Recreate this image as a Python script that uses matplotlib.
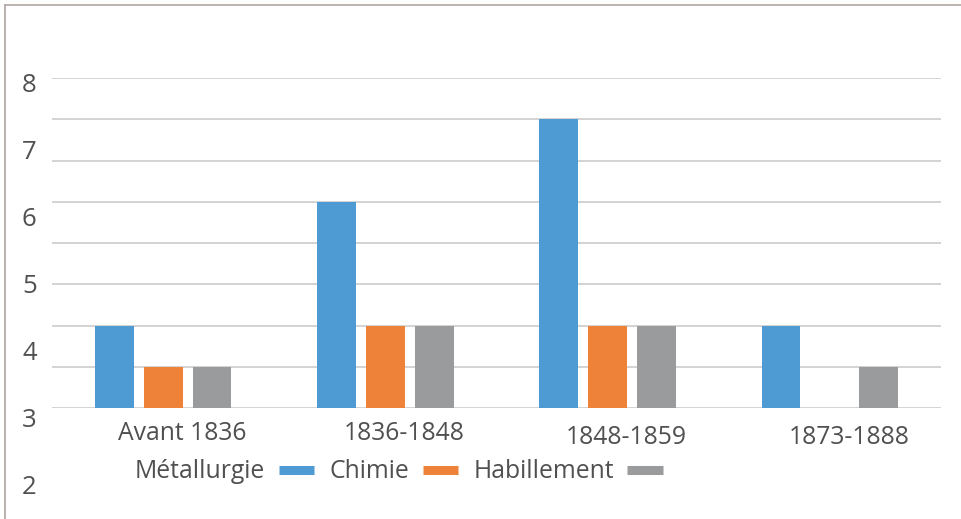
import matplotlib
matplotlib.use('Agg')
import matplotlib.pyplot as plt
from matplotlib.lines import Line2D
from matplotlib.transforms import blended_transform_factory
import numpy as np

plt.rcParams['font.family'] = ['Open Sans', 'DejaVu Sans']

# données
periodes = ['Avant 1836', '1836-1848', '1848-1859', '1873-1888']
metallurgie = [2, 5, 7, 2]
chimie = [1, 2, 2, 0]
habillement = [1, 2, 2, 1]
series = ['Métallurgie', 'Chimie', 'Habillement']
etiquettes_y = [8, 7, 6, 5, 4, 3, 2]

couleurs = ['#4e9ad2', '#ef8239', '#999b9c']
gris_texte = '#505050'

W, H = 961, 519
fig = plt.figure(figsize=(W / 100, H / 100), dpi=100)

def px_box(x0, y0, x1, y1):
    return [x0 / W, 1 - y1 / H, (x1 - x0) / W, (y1 - y0) / H]

ax = fig.add_axes(px_box(52, 78, 941, 408))
x = np.arange(len(periodes))
larg = 0.175
pas = 0.22
for k, vals in enumerate([metallurgie, chimie, habillement]):
    ax.bar(x + (k - 1) * pas, vals, width=larg, color=couleurs[k], zorder=3)

ax.set_xlim(-0.5, len(periodes) - 0.5)
ax.set_ylim(0, 8)
ax.set_yticks(range(0, 9))
ax.grid(axis='y', color='#d0d0d0', linewidth=1.3, zorder=0)
ax.tick_params(length=0, labelleft=False, labelbottom=False)
for s in ax.spines.values():
    s.set_visible(False)

# étiquettes de catégories (décalées comme sur l'original)
trans = blended_transform_factory(ax.transData, fig.transFigure)
y_cat = [433, 433, 437, 437]
for i, p in enumerate(periodes):
    ax.text(i + 0.085, 1 - y_cat[i] / H, p, transform=trans, ha='center', va='center',
            fontsize=17.8, color=gris_texte)

# axe des y décalé (étiquettes seules)
ax_lab = fig.add_axes(px_box(52, 82, 941, 485))
ax_lab.set_ylim(2, 8)
ax_lab.set_yticks(etiquettes_y)
ax_lab.set_xticks([])
ax_lab.patch.set_alpha(0)
for s in ax_lab.spines.values():
    s.set_visible(False)
ax_lab.tick_params(axis='y', length=0, pad=11, labelsize=18.5, labelcolor=gris_texte)

# légende avec le texte avant le symbole
poignees = [Line2D([0], [0], color=c, lw=6.5, solid_capstyle='butt') for c in couleurs]
fig.legend(poignees, series, loc='center', bbox_to_anchor=(399 / W, 1 - 472 / H),
           ncol=3, frameon=False, markerfirst=False, handlelength=1.45,
           handletextpad=0.55, columnspacing=0.6, fontsize=17.8, labelcolor=gris_texte)

# cadre (haut et gauche seulement)
bord = '#b5aca8'
fig.add_artist(Line2D([5 / W, 1], [1 - 5 / H, 1 - 5 / H], color=bord, lw=1.3))
fig.add_artist(Line2D([5 / W, 5 / W], [0, 1 - 5 / H], color=bord, lw=1.3))

fig.savefig('out.png', dpi=100)
